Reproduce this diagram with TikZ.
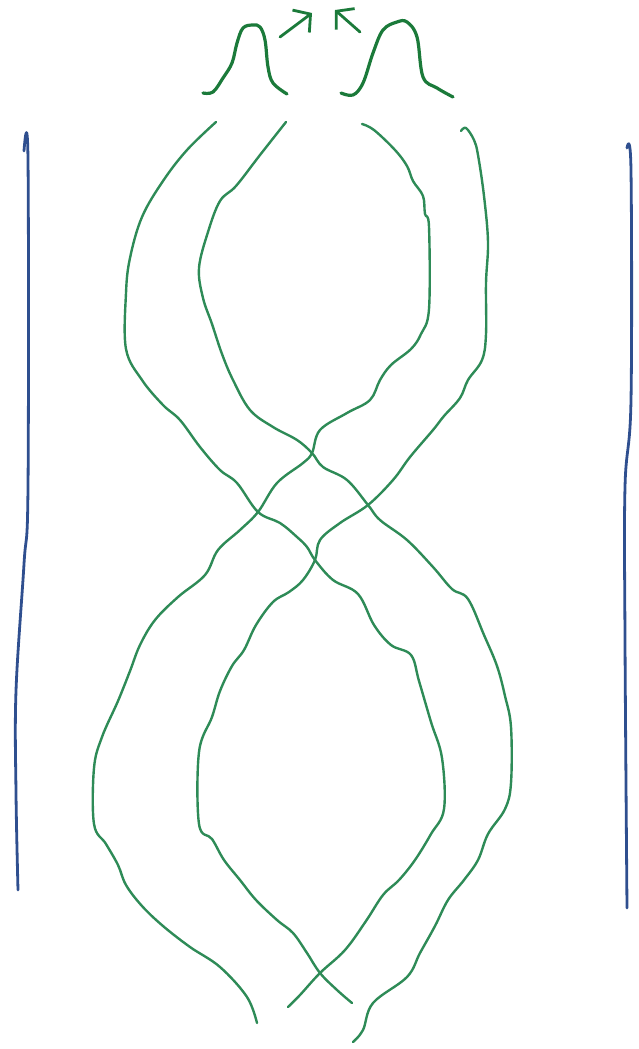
\documentclass[tikz,border=0pt]{standalone}
\usepackage{xcolor}
\usepackage{tikz}
\usetikzlibrary{arrows.meta}
\definecolor{strandgreen}{HTML}{2E8B57}
\definecolor{bumpgreen}{HTML}{1B7A3A}
\definecolor{wallblue}{HTML}{2F4F8F}

\begin{document}
\begin{tikzpicture}[
  x=1pt, y=-1pt,
  strand/.style={draw=strandgreen, line width=2.4pt, line cap=round, line join=round},
  bump/.style={draw=bumpgreen, line width=3.2pt, line cap=round, line join=round},
  wall/.style={draw=wallblue, line width=2.8pt, line cap=round, line join=round},
  arrow/.style={bumpgreen, line width=2.8pt, line cap=round, -{Straight Barb[length=12pt, width=28pt, line width=2.8pt]}},
]
  \useasboundingbox (0,0) rectangle (638,1049);

  % side walls
  \draw[wall] plot[smooth, tension=0.6] coordinates {(24,151) (28,160) (28,487) (24,564) (16,691) (16,793) (18,890)};
  \draw[wall] plot[smooth, tension=0.6] coordinates {(627,148) (631,171) (631,400) (625,487) (625,640) (627,908)};

  % bumps and arrows at the top
  \draw[bump] plot[smooth, tension=0.6] coordinates {(203,93) (213,92) (223,78) (232,63) (237,43) (243,28) (253,25) (260,27) (265,40) (268,67) (273,83) (287,94)};
  \draw[bump] plot[smooth, tension=0.6] coordinates {(341,93) (353,95) (363,83) (373,53) (383,30) (397,22) (407,22) (417,37) (423,77) (437,88) (453,97)};
  \coordinate (ltail) at (280,37);
  \coordinate (ltip) at (312,13);
  \coordinate (rtail) at (360,32);
  \coordinate (rtip) at (335,10);
  \draw[arrow] (ltail) -- (ltip);
  \draw[arrow] (rtail) -- (rtip);

  % the four strands
  \draw[strand] plot[smooth, tension=0.6] coordinates {(216,122) (187,150) (163,181) (142,217) (130,258) (126,293) (126,349) (142,380) (163,405) (180,420) (200,447) (220,470) (237,483) (258,512) (280,523) (297,537) (307,547) (315,560) (333,580) (358,594) (374,625) (391,645) (411,655) (419,681) (431,722) (442,758) (444,809) (431,834) (415,860) (399,880) (383,895) (366,921) (345,950) (320,973) (300,995) (288,1007)};
  \draw[strand] plot[smooth, tension=0.6] coordinates {(286,122) (260,155) (236,186) (220,201) (208,232) (199,268) (203,298) (212,324) (222,354) (233,380) (250,410) (273,427) (297,440) (312,453) (323,467) (347,480) (368,505) (380,520) (407,540) (433,567) (452,589) (468,599) (484,635) (497,666) (505,696) (511,727) (511,783) (505,809) (488,834) (478,860) (464,880) (448,900) (435,926) (420,953) (407,977) (373,1003) (363,1030) (353,1042)};
  \draw[strand] plot[smooth, tension=0.6] coordinates {(362,124) (374,130) (395,150) (407,166) (413,181) (423,196) (425,214) (429,227) (429,309) (421,334) (411,349) (391,365) (380,380) (370,400) (347,413) (320,430) (312,453) (303,463) (277,483) (258,512) (240,530) (218,550) (205,575) (178,597) (155,620) (140,645) (130,671) (118,701) (102,737) (94,768) (94,824) (106,844) (118,865) (126,885) (142,906) (163,926) (190,947) (220,967) (247,997) (257,1023)};
  \draw[strand] plot[smooth, tension=0.6] coordinates {(461,131) (466,128) (474,140) (478,155) (484,196) (488,242) (486,283) (486,334) (482,360) (468,380) (460,398) (444,416) (433,430) (410,457) (393,480) (368,505) (340,523) (320,540) (315,560) (303,580) (289,592) (273,602) (256,625) (244,650) (232,666) (220,691) (212,717) (199,752) (199,824) (212,839) (224,860) (240,880) (256,900) (277,920) (293,933) (307,953) (320,973) (337,990) (352,1003)};
\end{tikzpicture}
\end{document}
